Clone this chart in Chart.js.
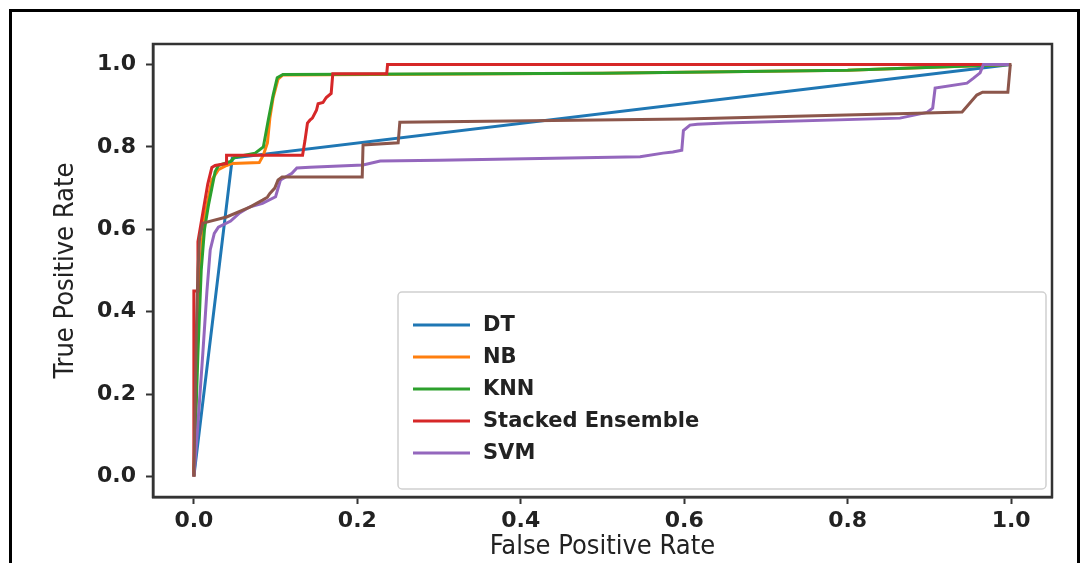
<!DOCTYPE html>
<html>
<head>
<meta charset="utf-8">
<script src="https://cdn.jsdelivr.net/npm/chart.js@4"></script>
<style>
  body { margin: 0; background: #fff; }
  #wrap { position: relative; width: 1083px; height: 563px; overflow: hidden; }
  #frame { position: absolute; left: 9px; top: 9px; width: 1071px; height: 620px; border: 3px solid #000; box-sizing: border-box; }
  canvas { position: absolute; left: 0; top: 0; }
</style>
</head>
<body>
<div id="wrap">
  <div id="frame"></div>
  <canvas id="roc" width="1083" height="563"></canvas>
</div>
<script>
// ROC curves
const tickValues = [0, 0.2, 0.4, 0.6, 0.8, 1.0];
const legendNames = ['DT', 'NB', 'KNN', 'Stacked Ensemble', 'SVM'];

const dtFpr = [0, 0.047, 1];
const dtTpr = [0, 0.773, 1];

const nbFpr = [0, 0.004, 0.008, 0.012, 0.017, 0.022, 0.03, 0.04, 0.047, 0.08, 0.085, 0.09, 0.093, 0.097, 0.103, 0.109, 0.5, 0.8, 1];
const nbTpr = [0, 0.3, 0.5, 0.62, 0.67, 0.72, 0.745, 0.755, 0.76, 0.762, 0.78, 0.81, 0.87, 0.92, 0.965, 0.975, 0.979, 0.986, 1];

const knnFpr = [0, 0.005, 0.009, 0.013, 0.018, 0.022, 0.026, 0.03, 0.045, 0.05, 0.075, 0.085, 0.091, 0.097, 0.102, 0.109, 0.5, 0.8, 1];
const knnTpr = [0, 0.3, 0.5, 0.6, 0.66, 0.7, 0.74, 0.755, 0.765, 0.775, 0.785, 0.8, 0.865, 0.926, 0.968, 0.976, 0.979, 0.986, 1];

const stackFpr = [0, 0, 0.005, 0.005, 0.011, 0.017, 0.022, 0.026, 0.04, 0.04, 0.133, 0.134, 0.136, 0.139, 0.142, 0.145, 0.15, 0.152, 0.158, 0.162, 0.168, 0.17, 0.236, 0.237, 1];
const stackTpr = [0, 0.45, 0.45, 0.57, 0.64, 0.71, 0.75, 0.755, 0.76, 0.78, 0.78, 0.792, 0.816, 0.858, 0.865, 0.87, 0.889, 0.905, 0.908, 0.92, 0.93, 0.978, 0.978, 1, 1];

const svmFpr = [0, 0.004, 0.011, 0.016, 0.02, 0.025, 0.03, 0.045, 0.056, 0.068, 0.084, 0.1, 0.106, 0.12, 0.126, 0.142, 0.207, 0.228, 0.3, 0.546, 0.574, 0.586, 0.597, 0.599, 0.607, 0.616, 0.65, 0.864, 0.897, 0.904, 0.907, 0.946, 0.954, 0.962, 0.966, 1];
const svmTpr = [0, 0.1, 0.3, 0.45, 0.55, 0.59, 0.605, 0.62, 0.64, 0.654, 0.663, 0.679, 0.72, 0.736, 0.749, 0.751, 0.756, 0.766, 0.768, 0.776, 0.785, 0.788, 0.792, 0.84, 0.853, 0.855, 0.858, 0.87, 0.884, 0.894, 0.943, 0.955, 0.967, 0.98, 1, 1];

// sixth curve (brown) has no legend entry in the original
const extraFpr = [0, 0.003, 0.005, 0.007, 0.011, 0.04, 0.0685, 0.084, 0.09, 0.093, 0.099, 0.103, 0.108, 0.206, 0.207, 0.25, 0.252, 0.6, 0.885, 0.94, 0.958, 0.965, 0.996, 0.999, 1];
const extraTpr = [0, 0.35, 0.5, 0.58, 0.615, 0.63, 0.654, 0.671, 0.678, 0.687, 0.7, 0.72, 0.727, 0.727, 0.805, 0.81, 0.86, 0.868, 0.882, 0.885, 0.926, 0.933, 0.933, 1, 1];

const colors = ['#1f77b4', '#ff7f0e', '#2ca02c', '#d62728', '#9467bd', '#8c564b'];

const series = [
  [dtFpr, dtTpr], [nbFpr, nbTpr], [knnFpr, knnTpr],
  [stackFpr, stackTpr], [svmFpr, svmTpr], [extraFpr, extraTpr]
];

const toPoints = (xs, ys) => xs.map((x, i) => ({ x, y: ys[i] }));

const datasets = series.map(([xs, ys], i) => ({
  label: legendNames[i] || '',
  data: toPoints(xs, ys),
  borderColor: colors[i],
  backgroundColor: colors[i],
  borderWidth: 3,
  pointRadius: 0,
  tension: 0,
  fill: false,
  order: series.length - i   // later curves drawn on top, like matplotlib
}));

const tickFont = { family: 'DejaVu Sans', size: 22, weight: 'bold' };
const titleFont = { family: 'DejaVu Sans Condensed, DejaVu Sans', size: 27 };

const frameAndLegend = {
  id: 'frameAndLegend',
  afterDatasetsDraw(chart) {
    const { ctx, chartArea: a } = chart;
    ctx.save();
    ctx.strokeStyle = '#333';
    ctx.lineWidth = 2.5;
    ctx.strokeRect(a.left, a.top, a.right - a.left, a.bottom - a.top);

    // legend box inside the plot, lower right
    const bx = 398, by = 292, bw = 648, bh = 197;
    ctx.fillStyle = 'rgba(255,255,255,0.85)';
    ctx.strokeStyle = '#d0d0d0';
    ctx.lineWidth = 1.5;
    ctx.beginPath();
    ctx.roundRect(bx, by, bw, bh, 4);
    ctx.fill();
    ctx.stroke();

    ctx.font = 'bold 21px "DejaVu Sans"';
    ctx.textBaseline = 'middle';
    legendNames.forEach((name, i) => {
      const y = 325 + i * 32;
      ctx.strokeStyle = colors[i];
      ctx.lineWidth = 3;
      ctx.beginPath();
      ctx.moveTo(413, y);
      ctx.lineTo(470, y);
      ctx.stroke();
      ctx.fillStyle = '#222';
      ctx.fillText(name, 483, y + 1);
    });
    ctx.restore();
  }
};

const fixTicks = scale => { scale.ticks = tickValues.map(v => ({ value: v })); };

new Chart(document.getElementById('roc'), {
  type: 'line',
  data: { datasets },
  options: {
    responsive: false,
    animation: false,
    layout: { padding: { left: 0, top: 44, right: 31, bottom: 0 } },
    plugins: { legend: { display: false }, tooltip: { enabled: false } },
    scales: {
      x: {
        type: 'linear',
        min: -0.05,
        max: 1.05,
        afterBuildTicks: fixTicks,
        afterFit: s => { s.height = 66; },
        grid: { drawOnChartArea: false, tickLength: 7, tickColor: '#333', tickWidth: 2 },
        border: { color: '#333', width: 2.5 },
        ticks: { color: '#222', font: tickFont, padding: 4, maxRotation: 0, callback: v => v.toFixed(1) },
        title: { display: true, text: 'False Positive Rate', color: '#222', font: titleFont, padding: { top: 0, bottom: 0 } }
      },
      y: {
        type: 'linear',
        min: -0.05,
        max: 1.05,
        afterBuildTicks: fixTicks,
        afterFit: s => { s.width = 153; },
        grid: { drawOnChartArea: false, tickLength: 7, tickColor: '#333', tickWidth: 2 },
        border: { color: '#333', width: 2.5 },
        ticks: { color: '#222', font: tickFont, padding: 10, callback: v => v.toFixed(1) },
        title: { display: true, text: 'True Positive Rate', color: '#222', font: titleFont, padding: { top: 50, bottom: 0 } }
      }
    }
  },
  plugins: [frameAndLegend]
});
</script>
</body>
</html>
